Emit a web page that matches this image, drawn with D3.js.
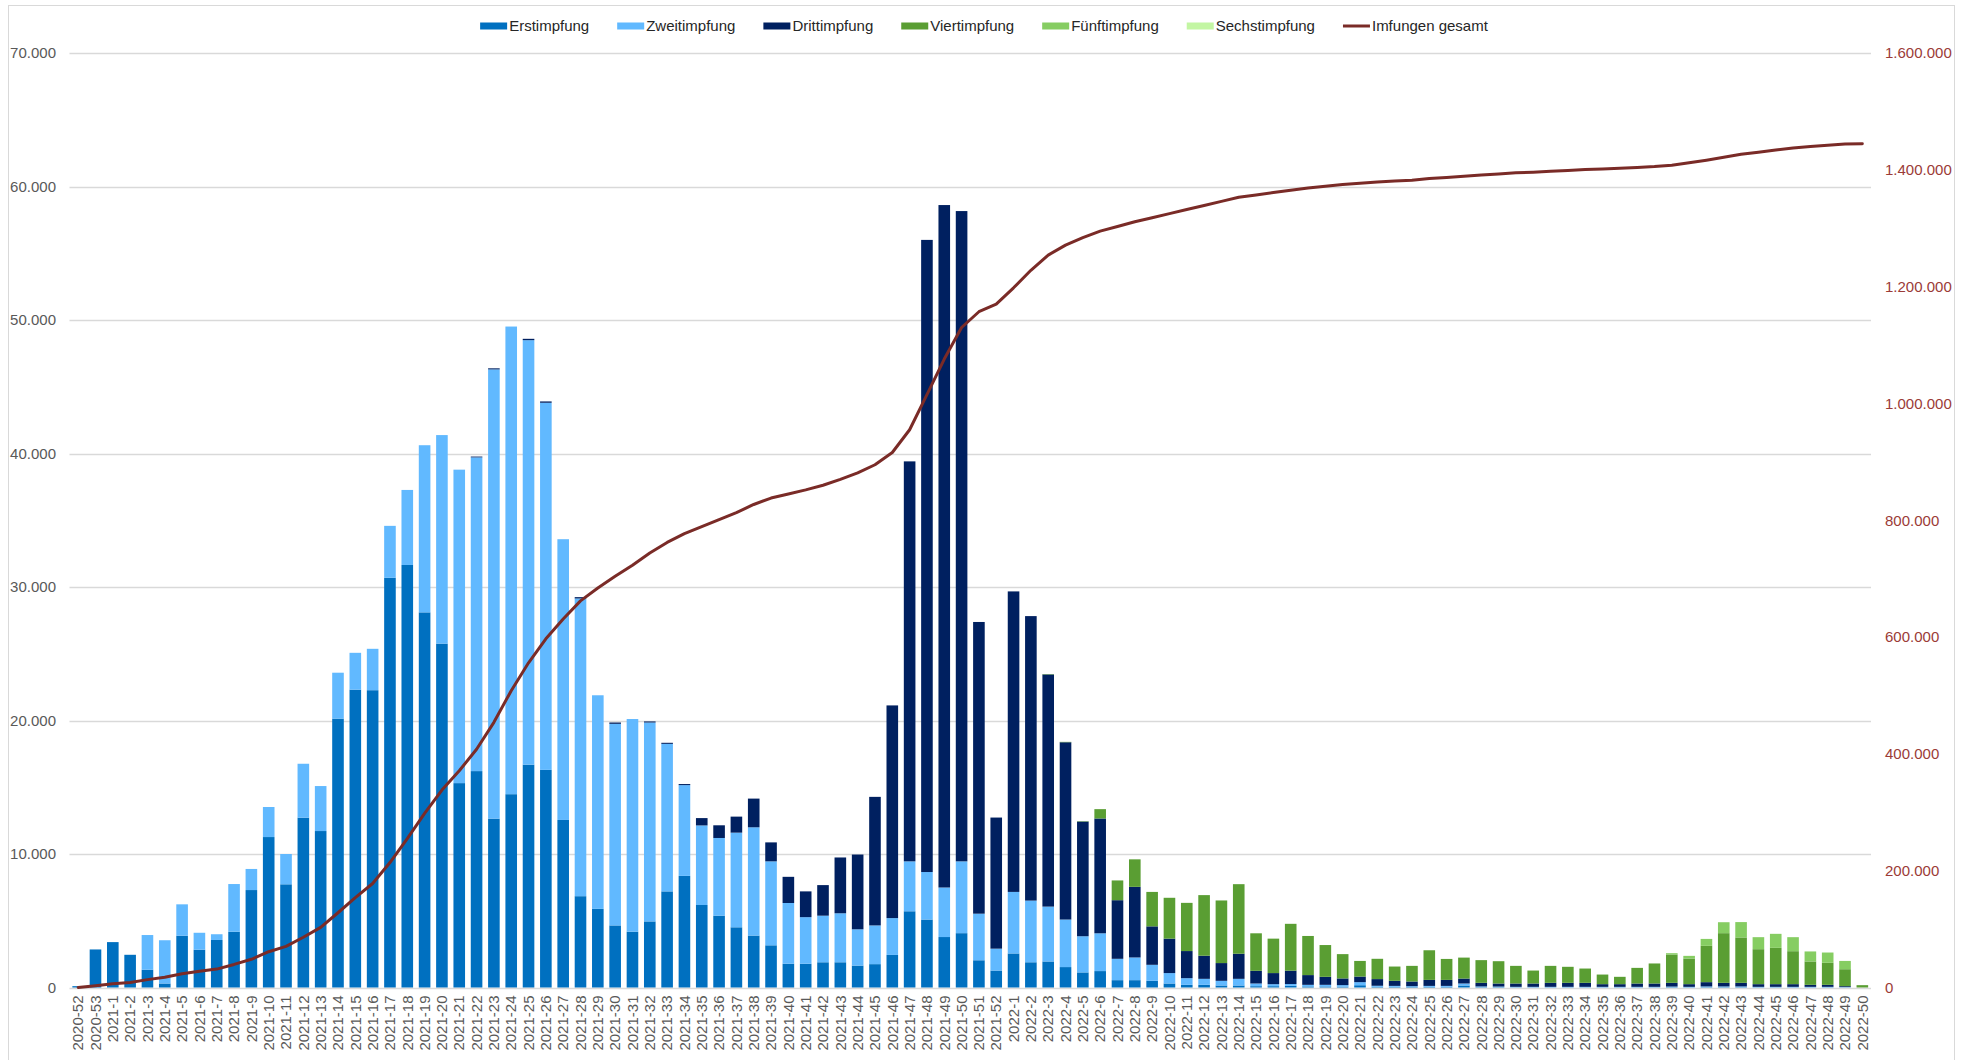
<!DOCTYPE html>
<html>
<head>
<meta charset="utf-8">
<script src="https://cdn.jsdelivr.net/npm/d3@7"></script>
<style>
  body { margin: 0; background: #fff; }
  svg { display: block; font-family: "Liberation Sans", Arial, sans-serif; }
</style>
</head>
<body>
<svg id="chart" width="1975" height="1060"></svg>
<script>
// Calendar weeks (year-week)
const weeks = [
  "2020-52","2020-53",
  "2021-1","2021-2","2021-3","2021-4","2021-5","2021-6","2021-7","2021-8","2021-9","2021-10",
  "2021-11","2021-12","2021-13","2021-14","2021-15","2021-16","2021-17","2021-18","2021-19","2021-20",
  "2021-21","2021-22","2021-23","2021-24","2021-25","2021-26","2021-27","2021-28","2021-29","2021-30",
  "2021-31","2021-32","2021-33","2021-34","2021-35","2021-36","2021-37","2021-38","2021-39","2021-40",
  "2021-41","2021-42","2021-43","2021-44","2021-45","2021-46","2021-47","2021-48","2021-49","2021-50",
  "2021-51","2021-52",
  "2022-1","2022-2","2022-3","2022-4","2022-5","2022-6","2022-7","2022-8","2022-9","2022-10",
  "2022-11","2022-12","2022-13","2022-14","2022-15","2022-16","2022-17","2022-18","2022-19","2022-20",
  "2022-21","2022-22","2022-23","2022-24","2022-25","2022-26","2022-27","2022-28","2022-29","2022-30",
  "2022-31","2022-32","2022-33","2022-34","2022-35","2022-36","2022-37","2022-38","2022-39","2022-40",
  "2022-41","2022-42","2022-43","2022-44","2022-45","2022-46","2022-47","2022-48","2022-49","2022-50"
];

// Weekly doses per dose number
const erstimpfung = [
  100, 2850, 3400, 2450, 1330, 300, 3880, 2830, 3560, 4180,
  7300, 11270, 7730, 12720, 11720, 20140, 22310, 22270, 30690, 31650,
  28100, 25760, 15310, 16210, 12650, 14480, 16690, 16300, 12550, 6840,
  5890, 4650, 4180, 4950, 7200, 8360, 6180, 5380, 4510, 3890,
  3160, 1780, 1780, 1890, 1890, 1640, 1750, 2440, 5710, 5090,
  3780, 4070, 2040, 1270, 2550, 1890, 1950, 1530, 1130, 1230,
  550, 550, 500, 300, 200, 200, 150, 150, 100, 100,
  130, 80, 80, 60, 170, 50, 50, 40, 50, 50,
  150, 30, 30, 20, 20, 20, 20, 20, 20, 20,
  20, 20, 30, 20, 30, 30, 30, 20, 20, 20,
  20, 20, 10, 0
];
const zweitimpfung = [
  0, 0, 0, 0, 2600, 3240, 2350, 1270, 430, 3570,
  1580, 2250, 2270, 4040, 3370, 3440, 2760, 3100, 3890, 5620,
  12520, 15620, 23480, 23500, 33650, 35030, 31800, 27500, 21030, 22300,
  16000, 15100, 15930, 14900, 11050, 6800, 5960, 5820, 7090, 8110,
  6290, 4550, 3490, 3490, 3670, 2720, 2900, 2760, 3740, 3560,
  3710, 5380, 3490, 1640, 4610, 4620, 4110, 3560, 2710, 2830,
  1600, 1700, 1200, 780, 500, 450, 350, 500, 200, 150,
  130, 120, 120, 120, 230, 80, 70, 60, 70, 70,
  150, 50, 40, 30, 30, 30, 30, 30, 30, 30,
  30, 30, 40, 30, 50, 50, 50, 30, 30, 30,
  30, 30, 20, 0
];
const drittimpfung = [
  0, 0, 0, 0, 0, 0, 0, 0, 0, 0,
  0, 0, 0, 0, 0, 0, 0, 0, 0, 0,
  0, 0, 0, 60, 80, 0, 100, 100, 0, 100,
  0, 100, 0, 80, 80, 80, 550, 950, 1200, 2150,
  1420, 1960, 1930, 2290, 4180, 5600, 9630, 15930, 29960, 47350,
  51120, 48710, 21850, 9820, 22510, 21310, 17390, 13280, 8590, 8600,
  4390, 5290, 2880, 2580, 2030, 1730, 1330, 1880, 950, 830,
  1000, 730, 600, 500, 420, 500, 380, 350, 450, 450,
  370, 270, 230, 250, 250, 300, 300, 300, 200, 200,
  250, 250, 280, 200, 320, 270, 270, 200, 200, 200,
  150, 150, 70, 0
];
const viertimpfung = [
  0, 0, 0, 0, 0, 0, 0, 0, 0, 0,
  0, 0, 0, 0, 0, 0, 0, 0, 0, 0,
  0, 0, 0, 0, 0, 0, 0, 0, 0, 0,
  0, 0, 0, 0, 0, 0, 0, 0, 0, 0,
  0, 0, 0, 0, 0, 0, 0, 0, 0, 0,
  0, 0, 0, 0, 0, 0, 30, 30, 30, 700,
  1480, 2060, 2580, 3060, 3610, 4540, 4690, 5210, 2810, 2580,
  3510, 2930, 2380, 1820, 1170, 1520, 1070, 1170, 2220, 1570,
  1570, 1700, 1670, 1320, 970, 1270, 1200, 1070, 720, 550,
  1170, 1500, 2120, 1920, 2720, 3720, 3400, 2620, 2720, 2470,
  1750, 1650, 1270, 175
];
const fuenftimpfung = [
  0, 0, 0, 0, 0, 0, 0, 0, 0, 0,
  0, 0, 0, 0, 0, 0, 0, 0, 0, 0,
  0, 0, 0, 0, 0, 0, 0, 0, 0, 0,
  0, 0, 0, 0, 0, 0, 0, 0, 0, 0,
  0, 0, 0, 0, 0, 0, 0, 0, 0, 0,
  0, 0, 0, 0, 0, 0, 0, 0, 0, 0,
  0, 0, 0, 0, 0, 0, 0, 0, 0, 0,
  0, 0, 0, 0, 0, 0, 0, 0, 0, 0,
  0, 0, 0, 0, 0, 0, 0, 0, 0, 0,
  0, 0, 100, 200, 520, 820, 1150, 900, 1050, 1050,
  750, 770, 620, 0
];
const sechstimpfung = [
  0, 0, 0, 0, 0, 0, 0, 0, 0, 0,
  0, 0, 0, 0, 0, 0, 0, 0, 0, 0,
  0, 0, 0, 0, 0, 0, 0, 0, 0, 0,
  0, 0, 0, 0, 0, 0, 0, 0, 0, 0,
  0, 0, 0, 0, 0, 0, 0, 0, 0, 0,
  0, 0, 0, 0, 0, 0, 0, 0, 0, 0,
  0, 0, 0, 0, 0, 0, 0, 0, 0, 0,
  0, 0, 0, 0, 0, 0, 0, 0, 0, 0,
  0, 0, 0, 0, 0, 0, 0, 0, 0, 0,
  0, 0, 0, 0, 0, 0, 0, 0, 0, 0,
  0, 0, 0, 0
];
// Cumulative total of all doses (right axis)
const impfungenGesamt = [
  100, 3000, 6500, 8500, 13500, 17500, 23600, 28000, 31500, 39500,
  48300, 61300, 70500, 86000, 103000, 128000, 154000, 178000, 214000, 255000,
  298000, 338000, 371000, 408000, 454000, 508000, 556000, 597000, 631000, 662000,
  684000, 704000, 723000, 744000, 762000, 777000, 789000, 801000, 813000, 827000,
  838000, 845000, 852000, 860000, 870000, 881000, 895000, 916000, 955000, 1015000,
  1076000, 1130000, 1157000, 1170000, 1198000, 1228000, 1254000, 1271000, 1284000, 1295000,
  1303000, 1311000, 1318000, 1325000, 1332000, 1339000, 1346000, 1353000, 1357000, 1361000,
  1365000, 1369000, 1372000, 1375000, 1377000, 1379000, 1381000, 1382000, 1385000, 1387000,
  1389000, 1391000, 1393000, 1395000, 1396000, 1397500, 1399000, 1400500, 1401500, 1402500,
  1404000, 1405500, 1408000, 1412000, 1416500, 1421500, 1426500, 1430000, 1434000, 1437500,
  1440000, 1442000, 1444000, 1444500
];

const leftTicks = [0, 10000, 20000, 30000, 40000, 50000, 60000, 70000];
const rightTicks = [0, 200000, 400000, 600000, 800000, 1000000, 1200000, 1400000, 1600000];

const seriesNames = ["Erstimpfung", "Zweitimpfung", "Drittimpfung", "Viertimpfung", "Fünftimpfung", "Sechstimpfung"];
const seriesValues = [erstimpfung, zweitimpfung, drittimpfung, viertimpfung, fuenftimpfung, sechstimpfung];
const seriesColors = ["#0070C0", "#61B9FF", "#002060", "#5A9E33", "#86CD62", "#C3F6A3"];
const lineName = "Imfungen gesamt";
const lineColor = "#7A2B27";

// ---- layout ----
const svg = d3.select("#chart");
const plot = { left: 69.5, right: 1871, top: 53, bottom: 987.5 };

const de = d3.formatLocale({ decimal: ",", thousands: ".", grouping: [3], currency: ["", " €"] });
const fmt = de.format(",.0f");

const x = d3.scaleBand().domain(weeks).range([plot.left, plot.right])
  .paddingInner(0.33).paddingOuter(0.165);
const y = d3.scaleLinear().domain([0, 70000]).range([plot.bottom, plot.top]);
const y2 = d3.scaleLinear().domain([0, 1600000]).range([plot.bottom, plot.top]);

// chart frame
svg.append("rect").attr("x", 8.5).attr("y", 5.5).attr("width", 1946).attr("height", 1070)
  .attr("fill", "#fff").attr("stroke", "#D9D9D9").attr("stroke-width", 1);

// gridlines
svg.append("g").selectAll("line").data(leftTicks).join("line")
  .attr("x1", plot.left).attr("x2", plot.right)
  .attr("y1", d => Math.round(y(d)) + 0.5).attr("y2", d => Math.round(y(d)) + 0.5)
  .attr("stroke", "#D9D9D9").attr("stroke-width", 1.3);

// stacked bars
const rows = weeks.map((w, i) => {
  const r = { week: w };
  seriesNames.forEach((n, k) => { r[n] = seriesValues[k][i]; });
  return r;
});
const stacked = d3.stack().keys(seriesNames)(rows);

svg.append("g").selectAll("g").data(stacked).join("g")
  .attr("fill", (d, k) => seriesColors[k])
  .selectAll("rect").data(d => d).join("rect")
  .attr("x", d => x(d.data.week))
  .attr("width", x.bandwidth())
  .attr("y", d => y(d[1]))
  .attr("height", d => Math.max(0, y(d[0]) - y(d[1])));

// cumulative line
const line = d3.line()
  .x((d, i) => x(weeks[i]) + x.bandwidth() / 2)
  .y(d => y2(d));
svg.append("path").datum(impfungenGesamt)
  .attr("d", line)
  .attr("fill", "none").attr("stroke", lineColor)
  .attr("stroke-width", 3).attr("stroke-linejoin", "round").attr("stroke-linecap", "round");

// left axis labels
svg.append("g").selectAll("text").data(leftTicks).join("text")
  .attr("x", 56).attr("y", d => y(d)).attr("dy", "0.35em")
  .attr("text-anchor", "end").attr("font-size", 15).attr("fill", "#595959")
  .text(d => fmt(d));

// right axis labels
svg.append("g").selectAll("text").data(rightTicks).join("text")
  .attr("x", 1885).attr("y", d => y2(d)).attr("dy", "0.35em")
  .attr("text-anchor", "start").attr("font-size", 15).attr("fill", "#9B3B37")
  .text(d => fmt(d));

// category labels (rotated)
svg.append("g").selectAll("text").data(weeks).join("text")
  .attr("transform", d => `translate(${x(d) + x.bandwidth() / 2},${plot.bottom + 8}) rotate(-90)`)
  .attr("dy", "0.35em").attr("text-anchor", "end")
  .attr("font-size", 15).attr("fill", "#595959")
  .text(d => d);

// legend
const legend = svg.append("g");
const items = seriesNames.map((n, k) => ({ name: n, color: seriesColors[k], type: "bar" }))
  .concat([{ name: lineName, color: lineColor, type: "line" }]);
let cx = 0;
const swW = 27, gapText = 2, gapItem = 28;
items.forEach(it => {
  const g = legend.append("g").attr("transform", `translate(${cx},0)`);
  if (it.type === "bar") {
    g.append("rect").attr("x", 0).attr("y", -3.5).attr("width", swW).attr("height", 7).attr("fill", it.color);
  } else {
    g.append("line").attr("x1", 0).attr("x2", swW).attr("y1", 0).attr("y2", 0)
      .attr("stroke", it.color).attr("stroke-width", 3);
  }
  const t = g.append("text").attr("x", swW + gapText).attr("y", 0).attr("dy", "0.35em")
    .attr("font-size", 15).attr("fill", "#262626").text(it.name);
  cx += swW + gapText + t.node().getComputedTextLength() + gapItem;
});
const legendWidth = cx - gapItem;
legend.attr("transform", `translate(${984 - legendWidth / 2},26)`);
</script>
</body>
</html>
